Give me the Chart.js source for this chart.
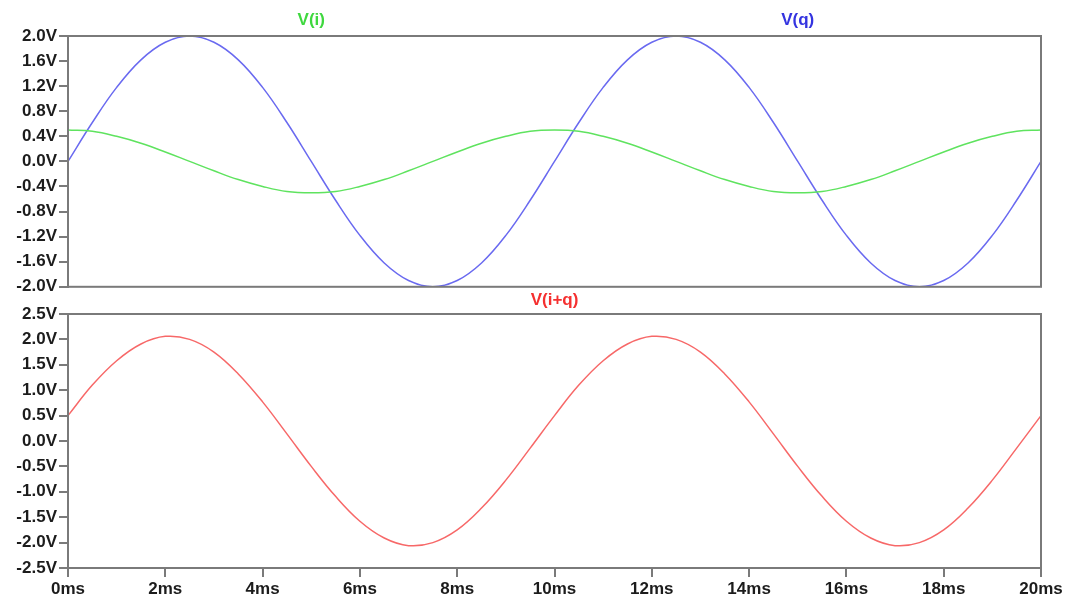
<!DOCTYPE html>
<html>
<head>
<meta charset="utf-8">
<script src="https://cdn.jsdelivr.net/npm/chart.js@4.4.1/dist/chart.umd.min.js"></script>
<style>
  html, body { margin: 0; padding: 0; background: #fff; }
  #wrap { position: relative; width: 1067px; height: 602px; overflow: hidden; }
  .pane { position: absolute; left: 0; width: 1067px; }
  #topPane { top: 0; height: 299px; }
  #bottomPane { top: 290px; height: 312px; }
</style>
</head>
<body>
<div id="wrap">
  <div class="pane" id="topPane"><canvas id="topChart"></canvas></div>
  <div class="pane" id="bottomPane"><canvas id="bottomChart"></canvas></div>
</div>
<script>
// sample times (ms)
const timesMs = [
  0, 0.5, 1, 1.5, 2, 2.5, 3, 3.5, 4, 4.5, 5, 5.5, 6, 6.5, 7, 7.5, 8, 8.5, 9, 9.5,
  10, 10.5, 11, 11.5, 12, 12.5, 13, 13.5, 14, 14.5, 15, 15.5, 16, 16.5, 17, 17.5,
  18, 18.5, 19, 19.5, 20
];

// V(i) in volts
const vI = [
  0.50, 0.48, 0.40, 0.29, 0.15, 0.00, -0.15, -0.29, -0.40, -0.48,
  -0.50, -0.48, -0.40, -0.29, -0.15, 0.00, 0.15, 0.29, 0.40, 0.48,
  0.50, 0.48, 0.40, 0.29, 0.15, 0.00, -0.15, -0.29, -0.40, -0.48,
  -0.50, -0.48, -0.40, -0.29, -0.15, 0.00, 0.15, 0.29, 0.40, 0.48,
  0.50
];

// V(q) in volts
const vQ = [
  0.00, 0.62, 1.18, 1.62, 1.90, 2.00, 1.90, 1.62, 1.18, 0.62,
  0.00, -0.62, -1.18, -1.62, -1.90, -2.00, -1.90, -1.62, -1.18, -0.62,
  0.00, 0.62, 1.18, 1.62, 1.90, 2.00, 1.90, 1.62, 1.18, 0.62,
  0.00, -0.62, -1.18, -1.62, -1.90, -2.00, -1.90, -1.62, -1.18, -0.62,
  0.00
];

// V(i+q) in volts
const vIQ = [
  0.50, 1.10, 1.58, 1.91, 2.06, 2.00, 1.75, 1.32, 0.77, 0.14,
  -0.50, -1.09, -1.58, -1.91, -2.06, -2.00, -1.75, -1.32, -0.77, -0.14,
  0.50, 1.10, 1.58, 1.91, 2.06, 2.00, 1.75, 1.32, 0.77, 0.14,
  -0.50, -1.09, -1.58, -1.91, -2.06, -2.00, -1.75, -1.32, -0.77, -0.14,
  0.50
];

// trace names and where their labels sit along the time axis (ms)
const topTraces = [
  { name: 'V(i)', values: vI, line: '#5fe35f', label: '#3fd83f', at: 5 },
  { name: 'V(q)', values: vQ, line: '#6a6af0', label: '#3434e0', at: 15 }
];
const bottomTraces = [
  { name: 'V(i+q)', values: vIQ, line: '#f76868', label: '#f53030', at: 10 }
];

const FONT = { family: '"Liberation Sans", Arial, sans-serif', size: 17, weight: 'bold' };
const TEXT = '#1c1c1c';
const FRAME = '#7a7a7a';

function toPoints(values) {
  return values.map((v, i) => ({ x: timesMs[i], y: v }));
}

function voltLabel(v) {
  if (Math.abs(v) < 1e-9) v = 0;
  return v.toFixed(1) + 'V';
}

// gray box round the plot area plus the coloured trace names above it
const framePlugin = {
  id: 'frame',
  afterDraw(chart, args, opts) {
    const { ctx, chartArea } = chart;
    ctx.save();
    ctx.strokeStyle = FRAME;
    ctx.lineWidth = 2;
    ctx.strokeRect(chartArea.left, chartArea.top, chartArea.right - chartArea.left, chartArea.bottom - chartArea.top);
    ctx.font = 'bold 17px "Liberation Sans", Arial, sans-serif';
    ctx.textAlign = 'center';
    ctx.textBaseline = 'middle';
    opts.traces.forEach((t) => {
      ctx.fillStyle = t.label;
      ctx.fillText(t.name, chart.scales.x.getPixelForValue(t.at), chartArea.top - opts.gap);
    });
    ctx.restore();
  }
};

function makeChart(id, traces, yMin, yMax, yStep, showTime, padTop, padBottom, gap) {
  const xAxis = {
    type: 'linear',
    min: 0,
    max: 20,
    display: showTime,
    ticks: {
      stepSize: 2,
      color: TEXT,
      font: FONT,
      padding: 2,
      maxRotation: 0,
      autoSkip: false,
      callback: (v) => v + 'ms'
    },
    grid: { drawOnChartArea: false, drawTicks: true, tickLength: 9, color: FRAME, lineWidth: 2 },
    border: { color: FRAME, width: 2 }
  };
  if (showTime) xAxis.afterFit = (scale) => { scale.height = 34; };

  return new Chart(document.getElementById(id), {
    type: 'line',
    data: {
      datasets: traces.map((t) => ({
        label: t.name,
        data: toPoints(t.values),
        borderColor: t.line,
        borderWidth: 1.5,
        pointRadius: 0,
        tension: 0.4,
        fill: false
      }))
    },
    options: {
      responsive: true,
      maintainAspectRatio: false,
      animation: false,
      layout: { padding: { top: padTop, bottom: padBottom, right: 26, left: 0 } },
      plugins: {
        legend: { display: false },
        tooltip: { enabled: false },
        frame: { traces: traces, gap: gap }
      },
      scales: {
        x: xAxis,
        y: {
          min: yMin,
          max: yMax,
          ticks: {
            stepSize: yStep,
            autoSkip: false,
            color: TEXT,
            font: FONT,
            padding: 2,
            callback: voltLabel
          },
          grid: { drawOnChartArea: false, drawTicks: true, tickLength: 9, color: FRAME, lineWidth: 2 },
          border: { color: FRAME, width: 2 },
          afterFit: (scale) => { scale.width = 68; }
        }
      }
    },
    plugins: [framePlugin]
  });
}

makeChart('topChart', topTraces, -2, 2, 0.4, false, 36, 0, 16);
makeChart('bottomChart', bottomTraces, -2.5, 2.5, 0.5, true, 24, 0, 14);
</script>
</body>
</html>
